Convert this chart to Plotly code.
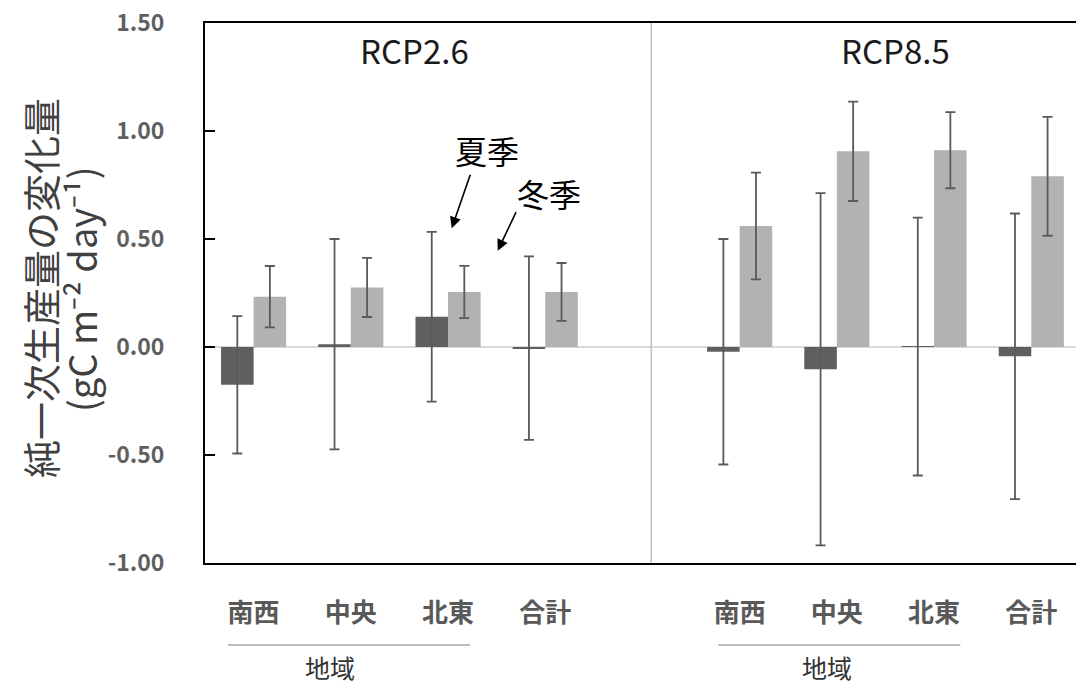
import plotly.graph_objects as go

# ---- data ----
regions = ["南西", "中央", "北東", "合計"]
scenarios = ["RCP2.6", "RCP8.5"]
slots_26 = [0, 1, 2, 3]
slots_85 = [5, 6, 7, 8]

summer_26 = [-0.175, 0.013, 0.140, -0.005]
summer_26_err = [0.318, 0.487, 0.393, 0.425]
winter_26 = [0.233, 0.276, 0.255, 0.255]
winter_26_err = [0.142, 0.137, 0.121, 0.134]

summer_85 = [-0.022, -0.103, 0.002, -0.043]
summer_85_err = [0.522, 0.815, 0.597, 0.661]
winter_85 = [0.560, 0.906, 0.911, 0.790]
winter_85_err = [0.247, 0.230, 0.176, 0.275]

y_ticks = [-1.0, -0.5, 0.0, 0.5, 1.0, 1.5]
y_ticktext = ["-1.00", "-0.50", "0.00", "0.50", "1.00", "1.50"]

# ---- figure ----
FONT = "Noto Sans CJK JP"
DARK = "#5f5f5f"
LIGHT = "#b2b2b2"
ERR = "#5a5a5a"

xs = slots_26 + slots_85
fig = go.Figure()
fig.add_trace(go.Bar(
    x=xs, y=summer_26 + summer_85, name="夏季",
    marker=dict(color=DARK, line=dict(width=0)),
    error_y=dict(type="data", array=summer_26_err + summer_85_err,
                 color=ERR, thickness=1.8, width=5),
))
fig.add_trace(go.Bar(
    x=xs, y=winter_26 + winter_85, name="冬季",
    marker=dict(color=LIGHT, line=dict(width=0)),
    error_y=dict(type="data", array=winter_26_err + winter_85_err,
                 color=ERR, thickness=1.8, width=5),
))

fig.update_layout(
    width=1076, height=684,
    margin=dict(l=205, r=0, t=23, b=121),
    paper_bgcolor="white", plot_bgcolor="white",
    barmode="group", bargap=0.33, bargroupgap=0,
    showlegend=False,
    font=dict(family=FONT),
)

fig.update_xaxes(
    range=[-0.5, 8.46],
    tickmode="array", tickvals=xs, ticktext=regions + regions,
    tickfont=dict(family=FONT, size=26, color="#595959", weight="bold"),
    ticks="", ticklabelstandoff=26,
    showline=True, linecolor="black", linewidth=2, mirror=True,
    showgrid=False, zeroline=False,
)
fig.update_yaxes(
    range=[-1.0, 1.5],
    tickmode="array", tickvals=y_ticks, ticktext=y_ticktext,
    tickfont=dict(family=FONT, size=23, color="#5f5f5f", weight="bold"),
    ticks="inside", ticklen=10, tickcolor="black", tickwidth=2,
    ticklabelstandoff=34,
    showline=True, linecolor="black", linewidth=2,
    showgrid=False,
    zeroline=True, zerolinecolor="#d9d9d9", zerolinewidth=2,
)

# divider between scenarios
fig.add_shape(type="line", xref="x", yref="paper", x0=4.09, x1=4.09, y0=0, y1=1,
              line=dict(color="#bfbfbf", width=1.5))

# scenario labels
for sx, lab in zip([1.65, 6.6], scenarios):
    fig.add_annotation(x=sx, y=1.375, xref="x", yref="y", text=lab, showarrow=False,
                       xanchor="center", yanchor="middle",
                       font=dict(family=FONT, size=33, color="#1a1a1a"))

# group lines and 地域 labels
for x0, x1, xc in [(-0.263, 2.226, 0.786), (4.78, 7.27, 5.9)]:
    fig.add_shape(type="line", xref="x", yref="paper", x0=x0, x1=x1, y0=-0.152, y1=-0.152,
                  line=dict(color="#a6a6a6", width=1.5))
    fig.add_annotation(x=xc, y=-0.192, xref="x", yref="paper", text="地域", showarrow=False,
                       xanchor="center", yanchor="middle",
                       font=dict(family=FONT, size=25, color="#333333"))

# arrows with season labels
fig.add_annotation(x=2.038, y=0.55, ax=2.234, ay=0.804, xref="x", yref="y",
                   axref="x", ayref="y", text="", showarrow=True,
                   arrowhead=2, arrowsize=1.4, arrowwidth=1.6, arrowcolor="black")
fig.add_annotation(x=2.511, y=0.446, ax=2.707, ay=0.631, xref="x", yref="y",
                   axref="x", ayref="y", text="", showarrow=True,
                   arrowhead=2, arrowsize=1.4, arrowwidth=1.6, arrowcolor="black")
fig.add_annotation(x=2.398, y=0.912, xref="x", yref="y", text="夏季", showarrow=False,
                   xanchor="center", yanchor="middle",
                   font=dict(family=FONT, size=32, color="black"))
fig.add_annotation(x=3.042, y=0.712, xref="x", yref="y", text="冬季", showarrow=False,
                   xanchor="center", yanchor="middle",
                   font=dict(family=FONT, size=32, color="black"))

# y-axis title (two lines)
fig.add_annotation(x=(39 - 205) / 871, y=(563 - 288) / 540, xref="paper", yref="paper",
                   text="純一次生産量の変化量", showarrow=False, textangle=-90,
                   xanchor="center", yanchor="middle",
                   font=dict(family=FONT, size=38, color="#404040"))
fig.add_annotation(x=(80 - 205) / 871, y=(563 - 289) / 540, xref="paper", yref="paper",
                   text="(gC m⁻² day⁻¹)",
                   showarrow=False, textangle=-90,
                   xanchor="center", yanchor="middle",
                   font=dict(family=FONT, size=38, color="#404040"))

fig.write_html("out.html")
